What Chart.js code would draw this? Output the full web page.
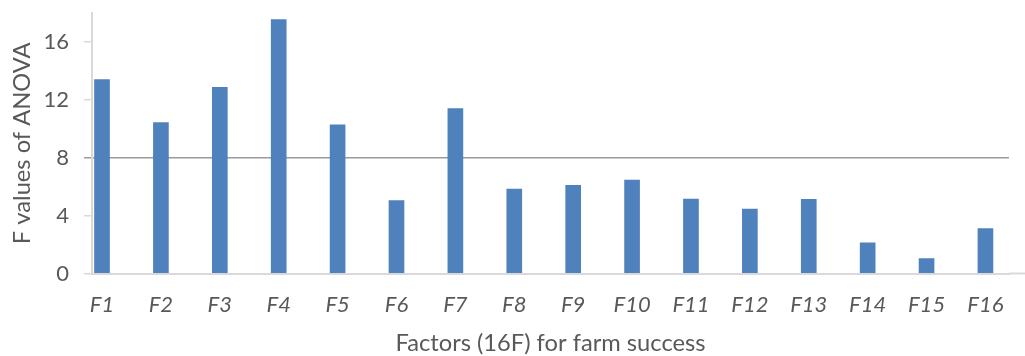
<!DOCTYPE html>
<html>
<head>
<meta charset="utf-8">
<script src="https://cdn.jsdelivr.net/npm/chart.js@4.4.1/dist/chart.umd.min.js"></script>
<style>
  html, body { margin: 0; padding: 0; background: #ffffff; }
  #wrap { width: 1025px; height: 356px; }
</style>
</head>
<body>
<div id="wrap"><canvas id="chart" width="1025" height="356"></canvas></div>
<script>
// Factors and their ANOVA F values
const categories = ['F1', 'F2', 'F3', 'F4', 'F5', 'F6', 'F7', 'F8',
                    'F9', 'F10', 'F11', 'F12', 'F13', 'F14', 'F15', 'F16'];
const fValues = [13.40, 10.43, 12.87, 17.54, 10.27, 5.04, 11.40, 5.83,
                 6.09, 6.46, 5.15, 4.45, 5.13, 2.12, 1.03, 3.10];
const yTicks = [0, 4, 8, 12, 16];
const yMax = 18;
const thresholdValue = 8;

const textGray = '#595959';
const axisGray = '#d9d9d9';
const thresholdGray = '#9a9a9a';

// The category axis line runs on to the right edge of the canvas
const axisExtension = {
  id: 'axisExtension',
  afterDraw(chart) {
    const { ctx, chartArea } = chart;
    const y = chart.scales.y.getPixelForValue(0);
    ctx.save();
    ctx.strokeStyle = axisGray;
    ctx.lineWidth = 2;
    ctx.beginPath();
    ctx.moveTo(chartArea.right, y);
    ctx.lineTo(chart.width, y);
    ctx.stroke();
    ctx.restore();
  }
};

new Chart(document.getElementById('chart'), {
  type: 'bar',
  data: {
    datasets: [{
      data: fValues.map((v, i) => ({ x: i + 1, y: v })),
      backgroundColor: '#4f81bd',
      borderWidth: 0,
      barThickness: 15
    }]
  },
  options: {
    responsive: false,
    animation: false,
    devicePixelRatio: 1,
    layout: { padding: { top: 13, right: 16, left: 0, bottom: 0 } },
    plugins: { legend: { display: false }, tooltip: { enabled: false } },
    scales: {
      x: {
        type: 'linear',
        offset: false,
        min: 0.83,
        max: 16.40,
        afterBuildTicks: (scale) => {
          scale.ticks = categories.map((c, i) => ({ value: i + 1 }));
        },
        afterFit: (scale) => {
          scale.height = 82.5;
          scale.paddingLeft = 0;
          scale.paddingRight = 0;
        },
        grid: { display: false, drawTicks: false },
        border: { display: true, color: axisGray, width: 2 },
        ticks: {
          autoSkip: false,
          maxRotation: 0,
          padding: 18,
          color: textGray,
          font: { family: 'Lato', size: 22, style: 'italic' },
          callback: (value) => categories[value - 1]
        },
        title: {
          display: true,
          text: 'Factors (16F) for farm success',
          color: textGray,
          font: { family: 'Lato', size: 23.7, lineHeight: 1 },
          padding: { top: 0, bottom: 1 }
        }
      },
      y: {
        min: 0,
        max: yMax,
        afterBuildTicks: (scale) => {
          scale.ticks = yTicks.map(v => ({ value: v }));
        },
        afterFit: (scale) => {
          scale.width = 92;
          scale.paddingTop = 0;
          scale.paddingBottom = 0;
        },
        grid: {
          color: (ctx) => ctx.tick && ctx.tick.value === thresholdValue ? thresholdGray : 'rgba(0,0,0,0)',
          tickColor: (ctx) => ctx.tick && ctx.tick.value === thresholdValue ? thresholdGray : axisGray,
          lineWidth: 1.5,
          tickLength: 8,
          drawOnChartArea: true
        },
        border: { display: true, color: axisGray, width: 2 },
        ticks: {
          padding: 15,
          color: textGray,
          font: { family: 'Lato', size: 22 }
        },
        title: {
          display: true,
          text: 'F values of ANOVA',
          color: textGray,
          font: { family: 'Lato', size: 23.7, lineHeight: 1 },
          padding: { top: 11, bottom: 0 }
        }
      }
    }
  },
  plugins: [axisExtension]
});
</script>
</body>
</html>
